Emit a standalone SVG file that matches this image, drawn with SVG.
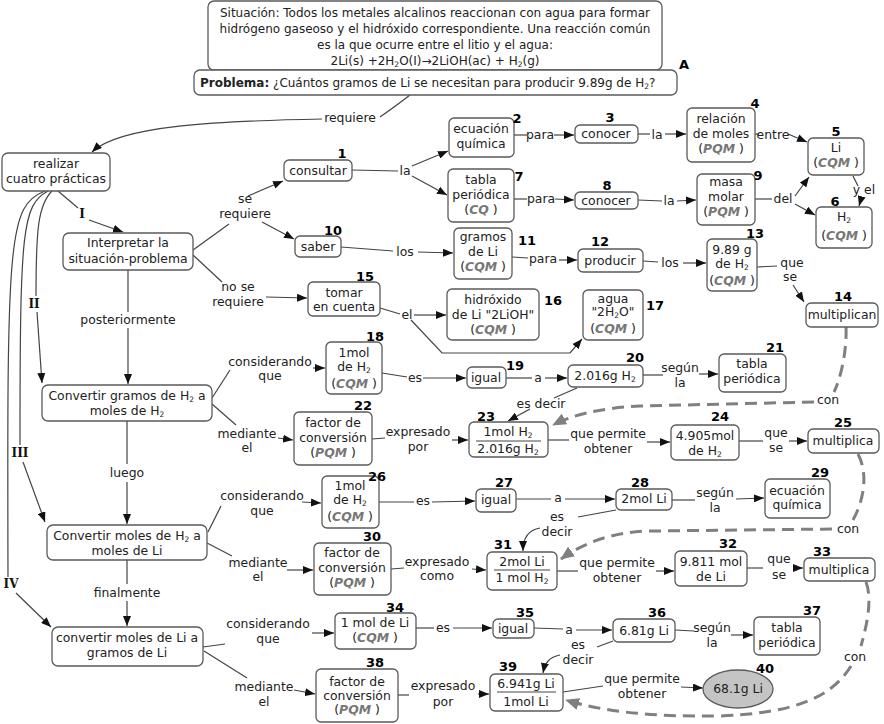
<svg xmlns="http://www.w3.org/2000/svg" width="884" height="724" viewBox="0 0 884 724">
<style>
text{font-family:"DejaVu Sans",Verdana,sans-serif;font-size:12.4px;fill:#222;text-anchor:middle}
#situacion text,#problema text{font-size:12px}
.n rect,.n ellipse{fill:#fff;stroke:#5a5a5a;stroke-width:1.3}
.n ellipse{fill:#c4c4c4}
.num{font-weight:bold;font-size:13px;fill:#000}
#problema .num{font-size:13px}
.q{font-style:italic;font-weight:bold;fill:#777}
.rom{font-family:"DejaVu Serif","Liberation Serif",serif;font-weight:bold;font-size:12px;fill:#111}
.e{fill:none;stroke:#444;stroke-width:1.2}
.a{marker-end:url(#ar)}
.d{fill:none;stroke:#808080;stroke-width:3;stroke-dasharray:12 7}
.fl{stroke:#444;stroke-width:1}
.s{font-size:7.5px}
#situacion .s,#problema .s{font-size:7.5px}
</style>
<defs>
<marker id="ar" markerUnits="userSpaceOnUse" markerWidth="10" markerHeight="8" refX="10" refY="4" orient="auto"><path d="M0,0 L10,4 L0,8 z" fill="#111"/></marker>
<marker id="ag" markerUnits="userSpaceOnUse" markerWidth="14" markerHeight="12" refX="13" refY="6" orient="auto"><path d="M0,0 L14,6 L0,12 z" fill="#808080"/></marker>
</defs>
<rect width="884" height="724" fill="#fff"/>

<g id="connectors">
<path class="e" d="M410,95 Q396,106 380,117"/>
<path class="e a" d="M322,119 C220,121 120,125 92,152"/>
<path class="e" d="M58,191 L78,208"/>
<path class="e a" d="M89,220 L123,232"/>
<path class="e" d="M52,191 C38,205 36,230 36,296"/>
<path class="e a" d="M37,312 L42,383"/>
<path class="e" d="M48,191 C22,205 20,230 20,445"/>
<path class="e a" d="M23,462 L45,522"/>
<path class="e" d="M45,191 C8,205 7,240 8,577"/>
<path class="e a" d="M16,593 L51,627"/>
<path class="e" d="M193,250 L229,224"/>
<path class="e a" d="M248,196 L283,181"/>
<path class="e a" d="M262,222 L294,239"/>
<path class="e" d="M193,255 L222,282"/>
<path class="e a" d="M266,297 L307,298"/>
<path class="e" d="M352,170 L398,171"/>
<path class="e a" d="M412,166 L448,151"/>
<path class="e a" d="M412,176 L447,195"/>
<path class="e" d="M514,135 L527,135"/>
<path class="e a" d="M554,135 L574,135"/>
<path class="e" d="M638,134 L650,134"/>
<path class="e a" d="M665,134 L686,134"/>
<path class="e" d="M755,134 L759,134"/>
<path class="e a" d="M788,134 L807,142"/>
<path class="e" d="M853,176 L858,186"/>
<path class="e a" d="M861,199 L859,206"/>
<path class="e" d="M514,199 L527,199"/>
<path class="e a" d="M555,199 L574,200"/>
<path class="e" d="M638,200 L662,201"/>
<path class="e a" d="M677,201 L696,200"/>
<path class="e" d="M755,199 L772,199"/>
<path class="e a" d="M795,196 L809,177"/>
<path class="e a" d="M795,204 L815,215"/>
<path class="e" d="M341,247 L393,251"/>
<path class="e a" d="M418,252 L453,253"/>
<path class="e" d="M512,257 L528,258"/>
<path class="e a" d="M559,260 L577,260"/>
<path class="e" d="M643,261 L658,262"/>
<path class="e a" d="M683,263 L706,263"/>
<path class="e" d="M757,267 L777,266"/>
<path class="e a" d="M793,285 L804,302"/>
<path class="e" d="M380,308 L400,314"/>
<path class="e a" d="M414,315 L446,315"/>
<path class="e a" d="M411,320 L442,353 L570,353 L582,339"/>
<path class="e" d="M128,270 L128,312"/>
<path class="e a" d="M128,328 L128,384"/>
<path class="e" d="M212,398 L230,370"/>
<path class="e a" d="M313,368 L325,368"/>
<path class="e" d="M382,373 L407,377"/>
<path class="e a" d="M423,378 L466,378"/>
<path class="e" d="M506,378 L532,378"/>
<path class="e a" d="M545,378 L567,378"/>
<path class="e" d="M643,375 L663,375"/>
<path class="e a" d="M699,374 L718,374"/>
<path class="e" d="M577,388 L554,398"/>
<path class="e a" d="M530,409 L508,421"/>
<path class="e" d="M212,404 L236,425"/>
<path class="e a" d="M278,438 L293,440"/>
<path class="e" d="M372,439 L385,438"/>
<path class="e a" d="M452,440 L468,440"/>
<path class="e" d="M548,440 L569,440"/>
<path class="e a" d="M647,442 L670,442"/>
<path class="e" d="M739,441 L763,441"/>
<path class="e a" d="M789,441 L807,441"/>
<path class="e" d="M127,421 L127,464"/>
<path class="e a" d="M127,482 L127,524"/>
<path class="e" d="M208,532 L221,506"/>
<path class="e a" d="M302,502 L321,503"/>
<path class="e" d="M379,502 L414,502"/>
<path class="e a" d="M432,502 L475,501"/>
<path class="e" d="M516,499 L551,499"/>
<path class="e a" d="M565,499 L615,499"/>
<path class="e" d="M672,500 L695,500"/>
<path class="e a" d="M736,499 L764,498"/>
<path class="e" d="M616,510 L578,517"/>
<path class="e a" d="M540,528 C528,530 523,538 523,551"/>
<path class="e" d="M207,543 L232,556"/>
<path class="e a" d="M287,570 L313,570"/>
<path class="e" d="M391,569 L404,568"/>
<path class="e a" d="M472,569 L486,570"/>
<path class="e" d="M557,571 L578,571"/>
<path class="e a" d="M656,571 L674,571"/>
<path class="e" d="M747,568 L763,568"/>
<path class="e a" d="M793,568 L803,568"/>
<path class="e" d="M127,560 L127,584"/>
<path class="e a" d="M127,601 L127,626"/>
<path class="e" d="M203,647 L225,644"/>
<path class="e a" d="M312,633 L334,633"/>
<path class="e" d="M416,628 L434,628"/>
<path class="e a" d="M453,628 L492,628"/>
<path class="e" d="M534,628 L563,629"/>
<path class="e a" d="M576,630 L612,630"/>
<path class="e" d="M675,630 L694,631"/>
<path class="e a" d="M731,635 L753,635"/>
<path class="e" d="M613,641 L597,647"/>
<path class="e a" d="M560,655 C549,657 545,663 543,673"/>
<path class="e" d="M204,651 L247,678"/>
<path class="e a" d="M294,690 L315,694"/>
<path class="e" d="M398,695 L409,695"/>
<path class="e a" d="M478,694 L489,694"/>
<path class="e" d="M563,692 L603,686"/>
<path class="e a" d="M681,687 L703,688"/>
<path class="d" d="M846,327 C847,350 841,378 834,392"/>
<path class="d" d="M814,402 L640,406 C600,408 572,415 553,425" marker-end="url(#ag)"/>
<path class="d" d="M858,454 C869,475 863,502 853,520"/>
<path class="d" d="M832,529 L650,531 C610,532 582,544 561,559" marker-end="url(#ag)"/>
<path class="d" d="M866,582 C873,600 866,628 861,646"/>
<path class="d" d="M851,666 C830,700 790,713 720,716 C650,717 600,711 566,700" marker-end="url(#ag)"/>
</g>

<g id="labels">
<text x="350" y="122">requiere</text>
<text class="rom" x="82" y="218">I</text>
<text class="rom" x="34" y="308">II</text>
<text class="rom" x="20" y="457">III</text>
<text class="rom" x="11" y="588">IV</text>
<text x="245" y="203">se</text><text x="245" y="218">requiere</text>
<text x="238" y="291">no se</text><text x="238" y="306">requiere</text>
<text x="128" y="324">posteriormente</text>
<text x="127" y="477">luego</text>
<text x="127" y="597">finalmente</text>
<text x="405" y="175">la</text>
<text x="540" y="139">para</text>
<text x="657" y="139">la</text>
<text x="773" y="139">entre</text>
<text x="864" y="194">y el</text>
<text x="541" y="203">para</text>
<text x="669" y="205">la</text>
<text x="783" y="203">del</text>
<text x="405" y="256">los</text>
<text x="543" y="263">para</text>
<text x="670" y="267">los</text>
<text x="792" y="267">que</text><text x="790" y="281">se</text>
<text x="407" y="319">el</text>
<text x="270" y="366">considerando</text><text x="270" y="380">que</text>
<text x="415" y="382">es</text>
<text x="538" y="382">a</text>
<text x="680" y="372">según</text><text x="680" y="387">la</text>
<text x="541" y="408">es decir</text>
<text x="828" y="404">con</text>
<text x="247" y="438">mediante</text><text x="247" y="452">el</text>
<text x="418" y="436">expresado</text><text x="418" y="451">por</text>
<text x="608" y="438">que permite</text><text x="608" y="453">obtener</text>
<text x="776" y="437">que</text><text x="776" y="452">se</text>
<text x="262" y="500">considerando</text><text x="262" y="515">que</text>
<text x="423" y="505">es</text>
<text x="558" y="502">a</text>
<text x="715" y="497">según</text><text x="715" y="512">la</text>
<text x="557" y="521">es</text><text x="557" y="536">decir</text>
<text x="848" y="533">con</text>
<text x="258" y="567">mediante</text><text x="258" y="581">el</text>
<text x="437" y="566">expresado</text><text x="437" y="580">como</text>
<text x="617" y="567">que permite</text><text x="617" y="582">obtener</text>
<text x="779" y="563">que</text><text x="779" y="579">se</text>
<text x="268" y="628">considerando</text><text x="268" y="643">que</text>
<text x="443" y="632">es</text>
<text x="569" y="634">a</text>
<text x="712" y="632">según</text><text x="712" y="647">la</text>
<text x="578" y="649">es</text><text x="578" y="664">decir</text>
<text x="855" y="661">con</text>
<text x="264" y="691">mediante</text><text x="264" y="706">el</text>
<text x="443" y="690">expresado</text><text x="443" y="706">por</text>
<text x="642" y="683">que permite</text><text x="642" y="698">obtener</text>
</g>

<g id="situacion" class="n">
<rect x="208" y="1" width="454" height="69" rx="6"/>
<text x="435" y="17">Situación: Todos los metales alcalinos reaccionan con agua para formar</text>
<text x="435" y="33">hidrógeno gaseoso y el hidróxido correspondiente. Una reacción común</text>
<text x="435" y="49">es la que ocurre entre el litio y el agua:</text>
<text x="435" y="65">2Li(s) +2H<tspan class="s" dy="2">2</tspan><tspan dy="-2">O(I)→2LiOH(ac) +  H</tspan><tspan class="s" dy="2">2</tspan><tspan dy="-2">(g)</tspan></text>
</g>
<g id="problema" class="n">
<rect x="194" y="70" width="483" height="25" rx="6"/>
<text x="200" y="87" style="text-anchor:start"><tspan font-weight="bold">Problema:</tspan> ¿Cuántos gramos de Li se necesitan para producir 9.89g de  H<tspan class="s" dy="2">2</tspan><tspan dy="-2">?</tspan></text>
<text class="num" x="684" y="69">A</text>
</g>
<g id="realizar" class="n">
<rect x="2" y="153" width="108" height="38" rx="6"/>
<text x="56" y="168">realizar</text><text x="56" y="183">cuatro prácticas</text>
</g>
<g id="interpretar" class="n">
<rect x="63" y="233" width="130" height="37" rx="6"/>
<text x="128" y="247">Interpretar la</text><text x="128" y="263">situación-problema</text>
</g>
<g id="convertir1" class="n">
<rect x="42" y="385" width="170" height="36" rx="6"/>
<text x="127" y="400">Convertir gramos de  H<tspan class="s" dy="2">2</tspan><tspan dy="-2"> a</tspan></text>
<text x="127" y="415">moles de H<tspan class="s" dy="2">2</tspan></text>
</g>
<g id="convertir2" class="n">
<rect x="47" y="525" width="160" height="35" rx="6"/>
<text x="127" y="540">Convertir moles de  H<tspan class="s" dy="2">2</tspan><tspan dy="-2"> a</tspan></text>
<text x="127" y="555">moles de Li</text>
</g>
<g id="convertir3" class="n">
<rect x="52" y="627" width="151" height="39" rx="6"/>
<text x="127" y="642">convertir moles de Li a</text>
<text x="127" y="657">gramos de Li</text>
</g>

<g id="n1" class="n"><rect x="284" y="160" width="68" height="21" rx="5"/><text x="318" y="175">consultar</text><text class="num" x="342" y="158">1</text></g>
<g id="n2" class="n"><rect x="449" y="118" width="65" height="39" rx="5"/><text x="481" y="133">ecuación</text><text x="481" y="148">química</text><text class="num" x="517" y="123">2</text></g>
<g id="n3" class="n"><rect x="575" y="125" width="63" height="18" rx="5"/><text x="606" y="138">conocer</text><text class="num" x="610" y="122">3</text></g>
<g id="n4" class="n"><rect x="687" y="108" width="68" height="54" rx="5"/><text x="721" y="123">relación</text><text x="721" y="138">de moles</text><text x="721" y="153">(<tspan class="q">PQM</tspan> )</text><text class="num" x="755" y="108">4</text></g>
<g id="n5" class="n"><rect x="808" y="138" width="56" height="37" rx="5"/><text x="836" y="152">Li</text><text x="836" y="167">(<tspan class="q">CQM</tspan> )</text><text class="num" x="836" y="136">5</text></g>
<g id="n6" class="n"><rect x="816" y="207" width="56" height="41" rx="5"/><text x="844" y="221">H<tspan class="s" dy="2">2</tspan></text><text x="844" y="240">(<tspan class="q">CQM</tspan> )</text><text class="num" x="835" y="206">6</text></g>
<g id="n7" class="n"><rect x="448" y="169" width="66" height="53" rx="5"/><text x="481" y="184">tabla</text><text x="481" y="199">periódica</text><text x="481" y="214">(<tspan class="q">CQ</tspan> )</text><text class="num" x="519" y="181">7</text></g>
<g id="n8" class="n"><rect x="575" y="192" width="63" height="17" rx="5"/><text x="606" y="205">conocer</text><text class="num" x="607" y="190">8</text></g>
<g id="n9" class="n"><rect x="697" y="174" width="58" height="51" rx="5"/><text x="726" y="186">masa</text><text x="726" y="201">molar</text><text x="726" y="216">(<tspan class="q">PQM</tspan> )</text><text class="num" x="758" y="180">9</text></g>
<g id="n10" class="n"><rect x="295" y="236" width="46" height="21" rx="5"/><text x="318" y="251">saber</text><text class="num" x="333" y="235">10</text></g>
<g id="n11" class="n"><rect x="454" y="228" width="58" height="51" rx="5"/><text x="483" y="241">gramos</text><text x="483" y="256">de Li</text><text x="483" y="271">(<tspan class="q">CQM</tspan> )</text><text class="num" x="527" y="245">11</text></g>
<g id="n12" class="n"><rect x="578" y="249" width="65" height="23" rx="5"/><text x="610" y="265">producir</text><text class="num" x="600" y="246">12</text></g>
<g id="n13" class="n"><rect x="707" y="239" width="50" height="52" rx="5"/><text x="732" y="254">9.89 g</text><text x="732" y="268">de H<tspan class="s" dy="2">2</tspan></text><text x="732" y="285">(<tspan class="q">CQM</tspan> )</text><text class="num" x="755" y="238">13</text></g>
<g id="n14" class="n"><rect x="806" y="303" width="72" height="24" rx="5"/><text x="842" y="319">multiplican</text><text class="num" x="843" y="301">14</text></g>
<g id="n15" class="n"><rect x="308" y="282" width="72" height="34" rx="5"/><text x="344" y="297">tomar</text><text x="344" y="311">en cuenta</text><text class="num" x="365" y="281">15</text></g>
<g id="n16" class="n"><rect x="447" y="289" width="92" height="51" rx="5"/><text x="493" y="304">hidróxido</text><text x="493" y="319">de Li "2LiOH"</text><text x="493" y="334">(<tspan class="q">CQM</tspan> )</text><text class="num" x="553" y="305">16</text></g>
<g id="n17" class="n"><rect x="583" y="290" width="60" height="50" rx="5"/><text x="613" y="303">agua</text><text x="613" y="316">"2H<tspan class="s" dy="2">2</tspan><tspan dy="-2">O"</tspan></text><text x="613" y="333">(<tspan class="q">CQM</tspan> )</text><text class="num" x="655" y="310">17</text></g>
<g id="n18" class="n"><rect x="326" y="342" width="56" height="52" rx="5"/><text x="354" y="357">1mol</text><text x="354" y="371">de H<tspan class="s" dy="2">2</tspan></text><text x="354" y="388">(<tspan class="q">CQM</tspan> )</text><text class="num" x="375" y="341">18</text></g>
<g id="n19" class="n"><rect x="467" y="367" width="39" height="21" rx="5"/><text x="486" y="382">igual</text><text class="num" x="515" y="370">19</text></g>
<g id="n20" class="n"><rect x="568" y="365" width="75" height="22" rx="5"/><text x="605" y="380">2.016g H<tspan class="s" dy="2">2</tspan></text><text class="num" x="635" y="362">20</text></g>
<g id="n21" class="n"><rect x="719" y="354" width="67" height="38" rx="5"/><text x="752" y="368">tabla</text><text x="752" y="383">periódica</text><text class="num" x="775" y="352">21</text></g>
<g id="n22" class="n"><rect x="294" y="412" width="78" height="53" rx="5"/><text x="333" y="427">factor de</text><text x="333" y="442">conversión</text><text x="333" y="457">(<tspan class="q">PQM</tspan> )</text><text class="num" x="363" y="410">22</text></g>
<g id="n23" class="n"><rect x="469" y="422" width="79" height="35" rx="5"/><text x="508" y="436">1mol  H<tspan class="s" dy="2">2</tspan></text><line class="fl" x1="476" y1="441" x2="541" y2="441"/><text x="508" y="453">2.016g  H<tspan class="s" dy="2">2</tspan></text><text class="num" x="486" y="421">23</text></g>
<g id="n24" class="n"><rect x="671" y="425" width="68" height="35" rx="5"/><text x="705" y="440">4.905mol</text><text x="705" y="455">de  H<tspan class="s" dy="2">2</tspan></text><text class="num" x="720" y="421">24</text></g>
<g id="n25" class="n"><rect x="808" y="429" width="71" height="24" rx="5"/><text x="843" y="445">multiplica</text><text class="num" x="843" y="427">25</text></g>
<g id="n26" class="n"><rect x="322" y="476" width="57" height="52" rx="5"/><text x="350" y="490">1mol</text><text x="350" y="504">de H<tspan class="s" dy="2">2</tspan></text><text x="350" y="521">(<tspan class="q">CQM</tspan> )</text><text class="num" x="377" y="481">26</text></g>
<g id="n27" class="n"><rect x="476" y="489" width="40" height="23" rx="5"/><text x="496" y="504">igual</text><text class="num" x="504" y="487">27</text></g>
<g id="n28" class="n"><rect x="616" y="489" width="56" height="21" rx="5"/><text x="644" y="503">2mol Li</text><text class="num" x="640" y="487">28</text></g>
<g id="n29" class="n"><rect x="765" y="479" width="65" height="39" rx="5"/><text x="797" y="495">ecuación</text><text x="797" y="509">química</text><text class="num" x="820" y="477">29</text></g>
<g id="n30" class="n"><rect x="314" y="543" width="77" height="52" rx="5"/><text x="352" y="557">factor de</text><text x="352" y="572">conversión</text><text x="352" y="587">(<tspan class="q">PQM</tspan> )</text><text class="num" x="372" y="541">30</text></g>
<g id="n31" class="n"><rect x="487" y="552" width="70" height="38" rx="5"/><text x="522" y="566">2mol Li</text><line class="fl" x1="494" y1="570" x2="550" y2="570"/><text x="522" y="582">1 mol  H<tspan class="s" dy="2">2</tspan></text><text class="num" x="503" y="549">31</text></g>
<g id="n32" class="n"><rect x="675" y="551" width="72" height="35" rx="5"/><text x="711" y="566">9.811 mol</text><text x="711" y="581">de Li</text><text class="num" x="728" y="548">32</text></g>
<g id="n33" class="n"><rect x="804" y="558" width="71" height="23" rx="5"/><text x="839" y="574">multiplica</text><text class="num" x="822" y="556">33</text></g>
<g id="n34" class="n"><rect x="335" y="613" width="81" height="36" rx="5"/><text x="375" y="627">1 mol de Li</text><text x="375" y="642">(<tspan class="q">CQM</tspan> )</text><text class="num" x="395" y="612">34</text></g>
<g id="n35" class="n"><rect x="493" y="619" width="41" height="19" rx="5"/><text x="513" y="633">igual</text><text class="num" x="525" y="617">35</text></g>
<g id="n36" class="n"><rect x="613" y="619" width="62" height="23" rx="5"/><text x="644" y="635">6.81g Li</text><text class="num" x="657" y="617">36</text></g>
<g id="n37" class="n"><rect x="754" y="617" width="66" height="38" rx="5"/><text x="787" y="632">tabla</text><text x="787" y="647">periódica</text><text class="num" x="812" y="615">37</text></g>
<g id="n38" class="n"><rect x="316" y="669" width="82" height="53" rx="5"/><text x="357" y="686">factor de</text><text x="357" y="700">conversión</text><text x="357" y="714">(<tspan class="q">PQM</tspan> )</text><text class="num" x="375" y="667">38</text></g>
<g id="n39" class="n"><rect x="490" y="674" width="73" height="37" rx="5"/><text x="526" y="688">6.941g Li</text><line class="fl" x1="497" y1="692" x2="556" y2="692"/><text x="526" y="706">1mol Li</text><text class="num" x="508" y="671">39</text></g>
<g id="n40" class="n"><ellipse cx="738" cy="689" rx="35" ry="19"/><text x="738" y="693">68.1g Li</text><text class="num" x="765" y="673">40</text></g>
</svg>
